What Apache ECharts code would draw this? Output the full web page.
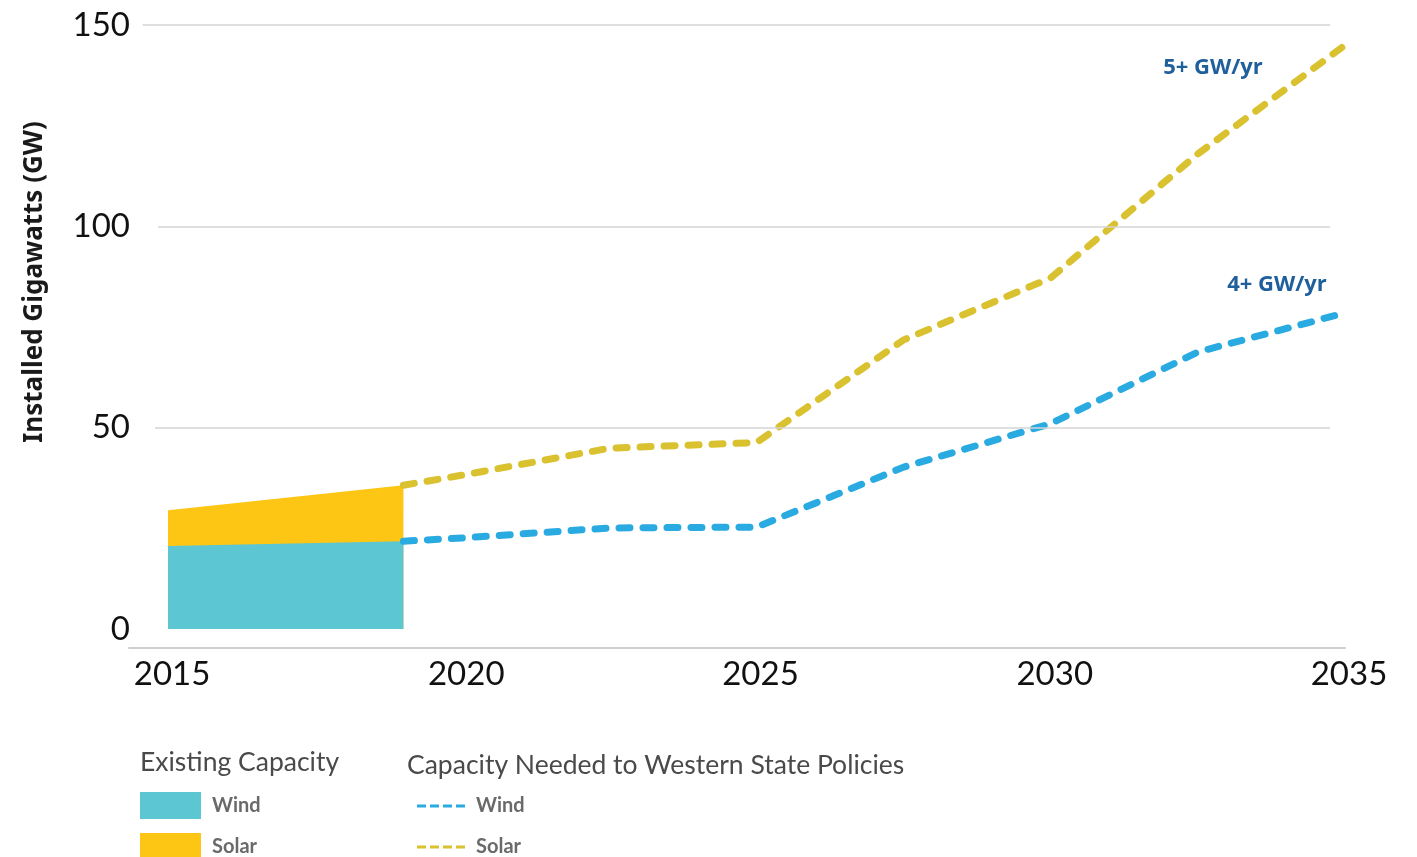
<!DOCTYPE html>
<html>
<head>
<meta charset="utf-8">
<script src="https://cdn.jsdelivr.net/npm/echarts@6/dist/echarts.min.js"></script>
<style>
html,body{margin:0;padding:0;background:#fff;}
#chart{width:1417px;height:857px;}
</style>
</head>
<body>
<div id="chart"></div>
<script>
// ---- data ----
const existingYears = [2015, 2019];
const existingWind = [20.6, 21.8];
const existingSolar = [8.9, 13.9];   // on top of wind

const neededYears = [2019, 2020, 2022.5, 2025, 2027.5, 2030, 2032.5, 2035];
const neededWind  = [21.8, 22.6, 25.1, 25.3, 40.2, 51.0, 68.8, 78.5];
const neededSolar = [35.7, 38.2, 44.9, 46.3, 71.8, 87.2, 118.0, 145.0];

const xTickLabels = [2015, 2020, 2025, 2030, 2035];
const yTickLabels = [0, 50, 100, 150];
const gridValues = [50, 100, 150];

const annotations = ['5+ GW/yr', '4+ GW/yr'];
const yTitle = 'Installed Gigawatts (GW)';
const legendTitles = ['Existing Capacity', 'Capacity Needed to Western State Policies'];
const legendNames = ['Wind', 'Solar'];

// ---- styles ----
const C = {
  windArea: '#5cc6d3',
  solarArea: '#fdc614',
  windLine: '#29abe2',
  solarLine: '#d9c12f',
  note: '#1f5f9c',
  grid: '#d4d4d4',
  axis: '#cfcfcf'
};
const FONT = 'Lato, "Noto Sans", sans-serif';

const pair = (xs, ys) => xs.map((x, i) => [x, ys[i]]);
const existingTotal = existingWind.map((w, i) => w + existingSolar[i]);
const gridStart = {50: 2014.78, 100: 2014.83, 150: 2014.57};

const chart = echarts.init(document.getElementById('chart'));
const option = {
  animation: false,
  backgroundColor: '#fff',
  grid: {left: 129, right: 72, top: 25, bottom: 228, containLabel: false},
  xAxis: {
    type: 'value',
    min: 2014.337,
    max: 2035,
    offset: 19,
    axisLine: {show: true, onZero: false, lineStyle: {color: C.axis, width: 2}},
    axisTick: {show: false},
    splitLine: {show: false},
    axisLabel: {
      customValues: xTickLabels,
      color: '#111',
      fontFamily: FONT,
      fontSize: 33,
      margin: 10,
      padding: [0, 0, 0, 8],
      formatter: v => String(v)
    }
  },
  yAxis: {
    type: 'value',
    min: 0,
    max: 150,
    interval: 50,
    axisLine: {show: false},
    axisTick: {show: false},
    splitLine: {show: false},
    axisLabel: {
      customValues: yTickLabels,
      color: '#111',
      fontFamily: FONT,
      fontSize: 33,
      margin: -1,
      padding: [0, 0, 4, 0]
    }
  },
  series: [
    {
      name: 'Existing Solar',
      type: 'line',
      data: pair(existingYears, existingTotal),
      symbol: 'none',
      lineStyle: {width: 0},
      areaStyle: {color: C.solarArea, opacity: 1, origin: 'start'},
      z: 1,
      markLine: {
        silent: true,
        symbol: 'none',
        label: {show: false},
        lineStyle: {color: C.grid, width: 1.5, type: 'solid'},
        data: gridValues.map(v => [{coord: [gridStart[v], v]}, {coord: [2034.75, v]}])
      }
    },
    {
      name: 'Existing Wind',
      type: 'line',
      data: pair(existingYears, existingWind),
      symbol: 'none',
      lineStyle: {width: 0},
      areaStyle: {color: C.windArea, opacity: 1, origin: 'start'},
      z: 2
    },
    {
      name: 'Needed Wind',
      type: 'line',
      data: pair(neededYears, neededWind),
      symbol: 'none',
      lineStyle: {color: C.windLine, width: 7, type: [11, 13], cap: 'round', join: 'round'},
      z: 3
    },
    {
      name: 'Needed Solar',
      type: 'line',
      data: pair(neededYears, neededSolar),
      symbol: 'none',
      lineStyle: {color: C.solarLine, width: 7, type: [11, 13], cap: 'round', join: 'round'},
      z: 3
    }
  ],
  graphic: [
    {type: 'text', x: 35, y: 282, rotation: Math.PI / 2,
     style: {text: yTitle, fill: '#1a1a1a', font: 'bold 26px "Noto Sans", sans-serif', align: 'center', verticalAlign: 'middle'}},
    {type: 'text', x: 1213, y: 68,
     style: {text: annotations[0], fill: C.note, font: 'bold 22px "Open Sans", sans-serif', align: 'center', verticalAlign: 'middle'}},
    {type: 'text', x: 1277, y: 285,
     style: {text: annotations[1], fill: C.note, font: 'bold 22px "Open Sans", sans-serif', align: 'center', verticalAlign: 'middle'}},
    // legend
    {type: 'text', x: 140, y: 762,
     style: {text: legendTitles[0], fill: '#4a4a4a', font: '26.5px ' + FONT, align: 'left', verticalAlign: 'middle'}},
    {type: 'text', x: 407, y: 765,
     style: {text: legendTitles[1], fill: '#4a4a4a', font: '26.5px ' + FONT, align: 'left', verticalAlign: 'middle'}},
    {type: 'rect', shape: {x: 140, y: 792, width: 61, height: 27}, style: {fill: C.windArea}},
    {type: 'rect', shape: {x: 140, y: 833, width: 61, height: 27}, style: {fill: C.solarArea}},
    {type: 'text', x: 212, y: 806,
     style: {text: legendNames[0], fill: '#6a6a6a', font: 'bold 20px ' + FONT, align: 'left', verticalAlign: 'middle'}},
    {type: 'text', x: 212, y: 847,
     style: {text: legendNames[1], fill: '#6a6a6a', font: 'bold 20px ' + FONT, align: 'left', verticalAlign: 'middle'}},
    {type: 'line', shape: {x1: 417, y1: 806, x2: 467, y2: 806},
     style: {stroke: C.windLine, lineWidth: 3, lineDash: [9, 4]}},
    {type: 'line', shape: {x1: 417, y1: 847, x2: 467, y2: 847},
     style: {stroke: C.solarLine, lineWidth: 3, lineDash: [9, 4]}},
    {type: 'text', x: 476, y: 806,
     style: {text: legendNames[0], fill: '#6a6a6a', font: 'bold 20px ' + FONT, align: 'left', verticalAlign: 'middle'}},
    {type: 'text', x: 476, y: 847,
     style: {text: legendNames[1], fill: '#6a6a6a', font: 'bold 20px ' + FONT, align: 'left', verticalAlign: 'middle'}}
  ]
};
chart.setOption(option);
</script>
</body>
</html>
